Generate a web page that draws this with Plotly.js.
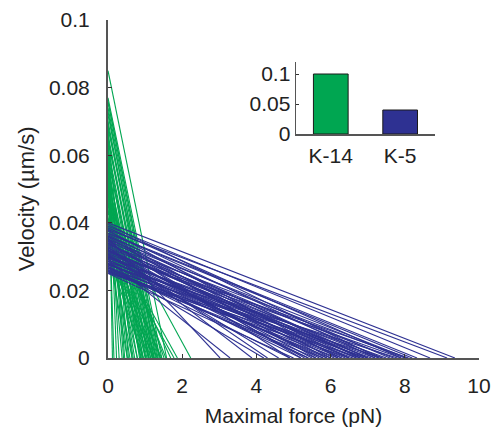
<!DOCTYPE html>
<html>
<head>
<meta charset="utf-8">
<script src="https://cdn.plot.ly/plotly-3.0.1.min.js"></script>
<style>html,body{margin:0;padding:0;background:#fff;}#chart{width:497px;height:427px;}</style>
</head>
<body>
<div id="chart"></div>
<script>
// K-14 (green): start velocity (µm/s) and maximal force (pN) for each line
const k14Velocity = [0.085,0.077,0.076,0.074,0.072,0.071,0.070,0.068,0.067,0.066,0.064,0.063,0.062,0.060,0.059,0.058,0.057,0.056,0.055,0.054,0.053,0.052,0.051,0.050,0.049,0.048,0.047,0.046,0.045,0.044,0.043,0.042,0.041,0.040,0.039,0.038,0.037,0.036,0.035,0.034,0.033,0.032,0.031,0.030,
  0.0755,0.073,0.069,0.065,0.061,0.0575,0.0535,0.0505,0.0475,0.0435,0.0395,0.0365,0.0335,0.068,0.058];
const k14Force    = [1.58,1.45,1.40,1.35,1.30,0.12,1.25,1.33,0.23,1.19,1.24,0.45,1.11,1.02,0.30,1.20,0.95,0.65,1.10,0.16,0.88,1.05,0.52,0.79,0.95,1.51,0.38,0.72,2.23,0.88,1.56,0.59,1.02,1.69,0.79,1.42,1.87,0.65,1.78,1.11,0.52,1.33,0.95,1.24,
  1.38,1.28,1.22,1.15,1.08,0.85,1.00,0.92,0.68,1.20,1.15,0.90,1.45,0.55,0.42];
// K-5 (blue)
const k5Velocity = [0.040,0.039,0.0385,0.038,0.0375,0.037,0.0365,0.036,0.0355,0.035,0.0348,0.0345,0.034,0.0338,0.0335,0.033,0.0328,0.0325,0.032,0.0318,0.0315,0.031,0.0308,0.0305,0.030,0.0298,0.0295,0.029,0.0288,0.0285,0.028,0.0278,0.0275,0.027,0.0268,0.0265,0.026,0.0258,0.0255,0.025,0.0362,0.0342,0.0322,0.0302,0.0282,0.0272,0.0262,0.0352,0.0312,0.0292,
  0.0395,0.0378,0.0358,0.0333,0.0316,0.0296,0.0276,0.0256,0.0368,0.0346,0.0306,0.0286,0.0266,0.0252,0.0326];
const k5Force    = [9.35,8.68,7.9,9.14,7.2,8.33,6.8,7.6,3.02,8.06,6.5,7.4,5.9,7.0,8.0,6.3,3.88,7.7,6.7,5.5,7.3,6.1,7.9,4.6,6.9,5.8,7.5,6.4,3.29,7.1,5.2,6.6,7.8,6.0,4.9,7.0,6.2,5.6,6.8,5.0,6.0,5.2,4.3,6.5,5.9,4.2,7.4,7.0,8.1,5.4,
  7.3,6.2,5.6,6.8,6.9,7.2,6.3,5.8,8.2,4.9,5.7,6.7,5.4,6.5,5.3];
// Inset bars
const insetCategories = ["K-14","K-5"];
const insetValues = [0.1, 0.04];

const GREEN = "#00a651", BLUE = "#2e3192";
function segs(v, f){
  const x=[], y=[];
  for(let i=0;i<v.length;i++){ x.push(0, f[i], null); y.push(v[i], 0, null); }
  return {x, y};
}
const g = segs(k14Velocity, k14Force), b = segs(k5Velocity, k5Force);
const FAM = "Liberation Sans, Arial, Helvetica, sans-serif";
const FONT = {family:FAM, size:21, color:"#222"};
const IFONT = {family:FAM, size:21, color:"#222"};

const data = [
  {type:"scatter", mode:"lines", x:g.x, y:g.y, line:{color:GREEN, width:1.1}, hoverinfo:"skip", showlegend:false},
  {type:"scatter", mode:"lines", x:b.x, y:b.y, line:{color:BLUE, width:1.1}, hoverinfo:"skip", showlegend:false},
  {type:"bar", x:insetCategories, y:insetValues, xaxis:"x2", yaxis:"y2", width:0.5,
   marker:{color:[GREEN, BLUE], line:{color:"#1a1a1a", width:1}}, showlegend:false, hoverinfo:"skip"}
];

const layout = {
  width:497, height:427,
  margin:{l:108, r:18, t:20, b:69},
  paper_bgcolor:"#fff", plot_bgcolor:"rgba(0,0,0,0)",
  font:FONT,
  showlegend:false,
  xaxis:{range:[0,10], tickvals:[0,2,4,6,8,10], ticktext:["0","2","4","6","8","10"],
    showgrid:false, zeroline:false, showline:true, linecolor:"#555", linewidth:2,
    ticks:"inside", ticklen:4, tickcolor:"#333", tickwidth:1, ticklabelstandoff:8,
    title:{text:"Maximal force (pN)", font:FONT, standoff:12}, tickfont:FONT, fixedrange:true},
  yaxis:{range:[0,0.1], tickvals:[0,0.02,0.04,0.06,0.08,0.1], ticktext:["0","0.02","0.04","0.06","0.08","0.1"],
    showgrid:false, zeroline:false, showline:true, linecolor:"#555", linewidth:2,
    ticks:"inside", ticklen:4, tickcolor:"#333", tickwidth:1, ticklabelstandoff:12,
    tickfont:FONT, fixedrange:true},
  xaxis2:{domain:[0.507,0.881], anchor:"y2", range:[-0.5,1.5], type:"category",
    showgrid:false, zeroline:false, showline:true, linecolor:"#555", linewidth:1.5,
    ticks:"", tickfont:IFONT, ticklabelstandoff:2, fixedrange:true},
  yaxis2:{domain:[0.6627,0.8766], anchor:"x2", range:[0,0.1205], tickvals:[0,0.05,0.1], ticktext:["0","0.05","0.1"],
    showgrid:false, zeroline:false, showline:true, linecolor:"#555", linewidth:1.5,
    ticks:"inside", ticklen:3, tickcolor:"#333", tickfont:IFONT, ticklabelstandoff:0, fixedrange:true},
  annotations:[{text:"Velocity (µm/s)", xref:"paper", yref:"paper", x:-0.221, y:0.47,
    xanchor:"center", yanchor:"middle", textangle:-90, showarrow:false, font:{family:FAM, size:22, color:"#222"}}]
};
Plotly.newPlot("chart", data, layout, {staticPlot:true, displayModeBar:false});
</script>
</body>
</html>
